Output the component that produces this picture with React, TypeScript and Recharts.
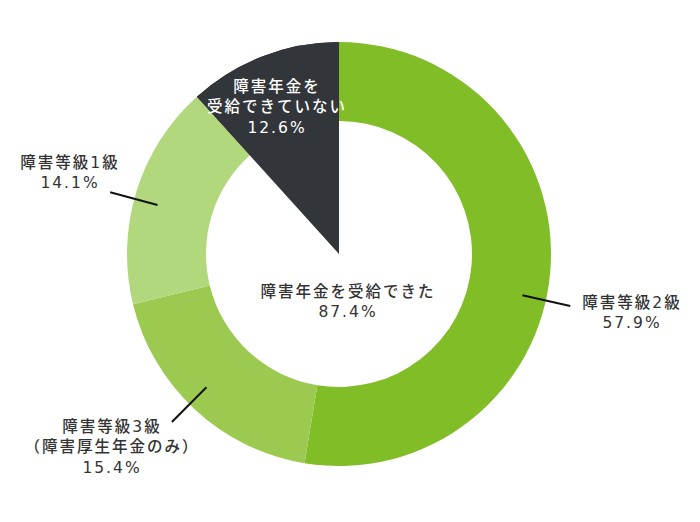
import React from 'react';
import { PieChart, Pie, Cell } from 'recharts';

// Slice names and printed labels
const categories = ['障害等級2級', '障害等級3級', '障害等級1級', '障害年金を受給できていない'];
const labelLines: string[][] = [
  ['障害等級2級', '57.9%'],
  ['障害等級3級', '（障害厚生年金のみ）', '15.4%'],
  ['障害等級1級', '14.1%'],
  ['障害年金を', '受給できていない', '12.6%'],
];
const centerLines = ['障害年金を受給できた', '87.4%'];
// Arc shares as drawn in the picture
const arcShares = [52.6, 18.6, 17.1, 11.7];

const colors = ['#80BD26', '#9CCA50', '#B2D87D', '#32363A'];
const textColors = ['#333333', '#333333', '#333333', '#ffffff'];
// layout: text block centre offsets from chart centre, leader-line nudges
const textOffsets = [
  { dx: 292, dy: 49 },
  { dx: -228, dy: 173 },
  { dx: -270, dy: -91 },
  { dx: -63, dy: -167 },
];
const leaderNudge = [-8, -2, 2, null];
const LINE_GAP = 20.3;

const data = categories.map((name, i) => ({ name, value: arcShares[i] }));

const FONT = '"DejaVu Sans", "Noto Sans CJK JP", sans-serif';
const TEXT_STYLE = { fontFamily: FONT, fontSize: 15.5, letterSpacing: 2, fontWeight: 500 as const };
const RAD = Math.PI / 180;

const renderLabel = (props: any) => {
  const { cx, cy, midAngle, index } = props;
  const off = textOffsets[index];
  const lines = labelLines[index];
  const nudge = leaderNudge[index];
  let line = null;
  if (nudge !== null) {
    const a = (midAngle + nudge) * RAD;
    const r1 = 188;
    const r2 = 237;
    line = (
      <line
        x1={cx + r1 * Math.cos(a)}
        y1={cy - r1 * Math.sin(a)}
        x2={cx + r2 * Math.cos(a)}
        y2={cy - r2 * Math.sin(a)}
        stroke="#111"
        strokeWidth={2}
      />
    );
  }
  return (
    <g key={`lbl-${index}`}>
      {line}
      {lines.map((t, k) => (
        <text
          key={k}
          x={cx + off.dx + 1}
          y={cy + off.dy + k * LINE_GAP}
          textAnchor="middle"
          dominantBaseline="central"
          fill={textColors[index]}
          style={TEXT_STYLE}
        >
          {t}
        </text>
      ))}
      {index === 0 &&
        centerLines.map((t, k) => (
          <text
            key={`c${k}`}
            x={cx + 9}
            y={cy + 38 + k * LINE_GAP}
            textAnchor="middle"
            dominantBaseline="central"
            fill="#333333"
            style={TEXT_STYLE}
          >
            {t}
          </text>
        ))}
    </g>
  );
};

export default function App() {
  return (
    <div style={{ position: 'absolute', left: 0, top: 0, width: 700, height: 522, background: '#fff' }}>
      <PieChart width={700} height={522} margin={{ top: 0, right: 0, bottom: 0, left: 0 }}>
        <Pie
          data={data}
          dataKey="value"
          cx={339}
          cy={254}
          innerRadius={0}
          outerRadius={212}
          startAngle={90}
          endAngle={-270}
          stroke="none"
          isAnimationActive={false}
          label={false}
          labelLine={false}
        >
          {data.map((d, i) => (
            <Cell key={i} fill={i === 3 ? colors[3] : 'transparent'} stroke="none" />
          ))}
        </Pie>
        <Pie
          data={data}
          dataKey="value"
          cx={339}
          cy={254}
          innerRadius={133}
          outerRadius={212}
          startAngle={90}
          endAngle={-270}
          stroke="none"
          isAnimationActive={false}
          label={renderLabel}
          labelLine={false}
        >
          {data.map((d, i) => (
            <Cell key={i} fill={colors[i]} stroke="none" />
          ))}
        </Pie>
      </PieChart>
    </div>
  );
}
